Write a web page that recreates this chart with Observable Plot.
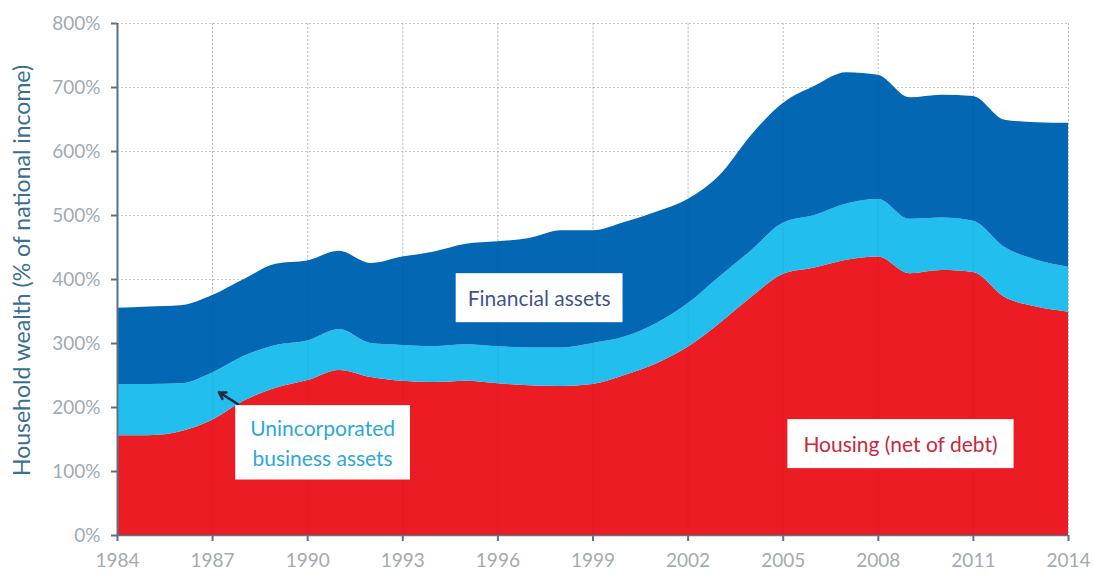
<!DOCTYPE html>
<html>
<head>
<meta charset="utf-8">
<script src="https://cdn.jsdelivr.net/npm/d3@7"></script>
<script src="https://cdn.jsdelivr.net/npm/@observablehq/plot@0.6"></script>
<style>
  html, body { margin: 0; padding: 0; background: #fff; }
  #chart { width: 1094px; height: 575px; }
</style>
</head>
<body>
<div id="chart"></div>
<script>
// ---- data (percent of national income) ----
const years = d3.range(1984, 2015);
const housing = [156,156,162,180,210,230,242,258,247,241,239,241,237,234,233,236,250,268,294,331,372,408,418,430,435,409,414,411,372,357,349];
const business = [80,80,75,74,70,67,62,64,53,56,56,57,58,59,60,64,60,63,68,73,73,80,82,88,90,85,82,80,78,73,70];
const financial = [119,121,122,121,120,127,125,122,125,138,148,157,164,171,183,176,179,174,163,158,180,187,202,205,194,190,192,195,199,215,225];

const seriesNames = ["Housing (net of debt)", "Unincorporated business assets", "Financial assets"];
const seriesColors = ["#ec1c24", "#22beee", "#0467b3"];
const xTicks = d3.range(1984, 2015, 3);
const yTicks = d3.range(0, 801, 100);
const yLabel = "Household wealth (% of national income)";

// annotation labels (data coordinates)
const annotations = [
  {text: "Financial assets", x: 1997.3, y: 373, color: "#3f5688", weight: 700},
  {text: "Unincorporated\nbusiness assets", x: 1990.47, y: 147, color: "#2ea7dc", weight: 400},
  {text: "Housing (net of debt)", x: 2008.7, y: 145, color: "#c9283c", weight: 400}
];
const arrowData = [{x1: 1987.8, y1: 205, x2: 1987.2, y2: 224}];

const seriesValues = [housing, business, financial];
const table = [];
seriesNames.forEach((name, i) => {
  years.forEach((yr, j) => table.push({series: name, year: yr, value: seriesValues[i][j]}));
});

const axisColor = "#5d7183";
const tickText = "#a2aab2";

const chart = Plot.plot({
  width: 1094,
  height: 575,
  marginLeft: 117,
  marginRight: 26,
  marginTop: 23,
  marginBottom: 40,
  style: {fontFamily: "Lato, 'Open Sans', sans-serif", fontSize: "18px", background: "#fff"},
  x: {domain: [1984, 2014]},
  y: {domain: [0, 800]},
  color: {domain: seriesNames, range: seriesColors},
  marks: [
    Plot.gridY(yTicks, {stroke: "#aab2ba", strokeOpacity: 0.7, strokeDasharray: "2,2"}),
    Plot.gridX(xTicks, {stroke: "#aab2ba", strokeOpacity: 0.7, strokeDasharray: "2,2"}),
    Plot.areaY(table, {x: "year", y: "value", fill: "series", order: seriesNames, curve: "monotone-x"}),
    Plot.gridX(xTicks, {stroke: "#1a3050", strokeOpacity: 0.06}),
    Plot.axisY(yTicks, {tickFormat: d => d + "%", tickSize: 6, tickPadding: 11, stroke: axisColor, strokeWidth: 2, color: tickText, label: null, fontSize: 19}),
    Plot.axisX(xTicks, {tickFormat: d => String(d), tickSize: 6, tickPadding: 12, stroke: axisColor, strokeWidth: 2, color: tickText, label: null, fontSize: 19}),
    Plot.ruleX([1984], {stroke: axisColor, strokeWidth: 2}),
    Plot.ruleY([0], {stroke: axisColor, strokeWidth: 1.5}),
    Plot.text([yLabel], {frameAnchor: "left", textAnchor: "middle", rotate: -90, dx: -95, dy: -9, fontSize: 23, fill: "#3b6f92"}),
    Plot.arrow(arrowData, {x1: "x1", y1: "y1", x2: "x2", y2: "y2", stroke: "#1b2a44", strokeWidth: 2.5, headLength: 8}),
    Plot.text(annotations, {x: "x", y: "y", text: "text", fill: "color", fontSize: 21, fontWeight: d => d.weight, lineHeight: 1.4, className: "anno"})
  ]
});

document.getElementById("chart").appendChild(chart);

// white boxes behind annotation labels
const pads = [[12, 12], [15, 10], [16, 12]];
d3.select(chart).selectAll("g.anno text").each(function(d, i) {
  const bb = this.getBBox();
  const [px, py] = pads[i] || [14, 13];
  const tr = this.getAttribute("transform");
  const rect = document.createElementNS("http://www.w3.org/2000/svg", "rect");
  rect.setAttribute("x", bb.x - px);
  rect.setAttribute("y", bb.y - py);
  rect.setAttribute("width", bb.width + 2 * px);
  rect.setAttribute("height", bb.height + 2 * py);
  rect.setAttribute("fill", "#ffffff");
  if (tr) rect.setAttribute("transform", tr);
  this.parentNode.insertBefore(rect, this);
});
</script>
</body>
</html>
